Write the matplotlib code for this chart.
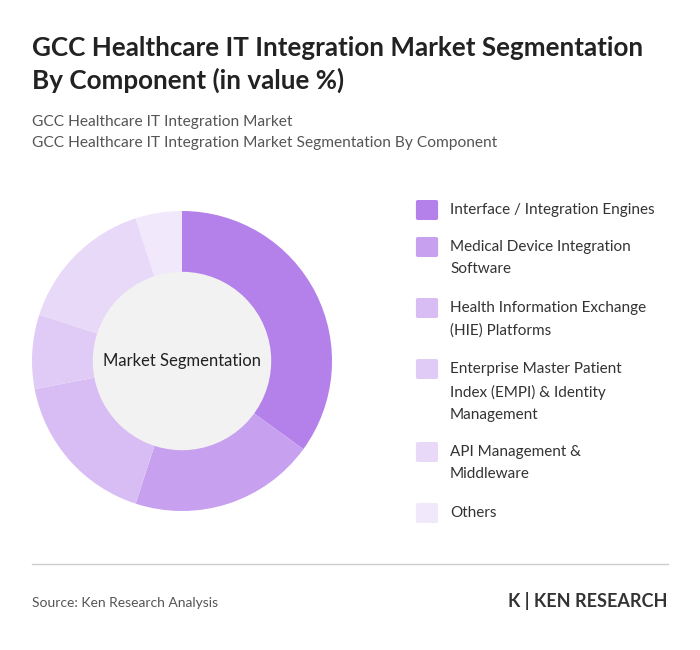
import matplotlib.pyplot as plt
from matplotlib.patches import FancyBboxPatch

labels = ["Interface / Integration Engines", "Medical Device Integration\nSoftware",
          "Health Information Exchange\n(HIE) Platforms",
          "Enterprise Master Patient\nIndex (EMPI) & Identity\nManagement",
          "API Management &\nMiddleware", "Others"]
values = [35, 20, 17, 8, 15, 5]
colors = ["#b480ea", "#c7a0f0", "#d8bdf5", "#e0cbf6", "#e8d9f8", "#f1e8fb"]

plt.rcParams['font.family'] = ['Lato', 'DejaVu Sans']
fig = plt.figure(figsize=(7, 6.5), dpi=100)

fig.text(32/700, 1-48/650, "GCC Healthcare IT Integration Market Segmentation", fontsize=18.7, weight='bold', color='#222222', va='center')
fig.text(32/700, 1-80/650, "By Component (in value %)", fontsize=18.7, weight='bold', color='#222222', va='center')
fig.text(32/700, 1-122/650, "GCC Healthcare IT Integration Market", fontsize=11.2, color='#555555', va='center')
fig.text(32/700, 1-143/650, "GCC Healthcare IT Integration Market Segmentation By Component", fontsize=11.2, color='#555555', va='center')

ax = fig.add_axes([32/700, 1-511/650, 300/700, 300/650])
ax.pie(values, colors=colors, startangle=90, counterclock=False,
       wedgeprops=dict(width=0.41, edgecolor='white', linewidth=0))
ax.add_patch(plt.Circle((0, 0), 0.59, color='#f2f2f2'))
ax.text(0, 0, "Market Segmentation", ha='center', va='center', fontsize=12, color='#222222')
ax.set_xlim(-1, 1)
ax.set_ylim(-1, 1)
ax.set_aspect('equal')

ys = [210, 247, 308, 369, 452, 513]
for y, lab, c in zip(ys, labels, colors):
    fig.patches.append(FancyBboxPatch((418/700, 1-(y+8)/650), 18/700, 16/650, boxstyle="round,pad=0.002",
                                      transform=fig.transFigure, color=c))
    fig.text(450/700, 1-(y-7)/650, lab, fontsize=11, color='#333333', va='top', linespacing=1.75)

fig.add_artist(plt.Line2D([32/700, 668/700], [1-564/650, 1-564/650], color='#cccccc', lw=1))
fig.text(32/700, 1-603/650, "Source: Ken Research Analysis", fontsize=10, color='#555555', va='center')
fig.text(668/700, 1-601/650, "K | KEN RESEARCH", fontsize=13, weight='bold', color='#333333', va='center', ha='right')

fig.savefig("out.png", dpi=100, facecolor='white')
